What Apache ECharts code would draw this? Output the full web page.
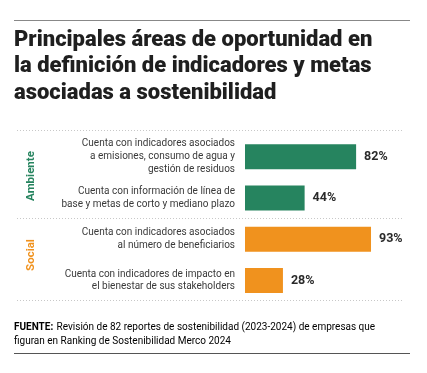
<!DOCTYPE html>
<html><head><meta charset="utf-8">
<script src="https://cdn.jsdelivr.net/npm/echarts@6/dist/echarts.min.js"></script>
<style>html,body{margin:0;padding:0;background:#fff}#c{width:427px;height:373px}</style>
</head><body><div id="c"></div>
<script>
const categories = [
  "Cuenta con indicadores asociados\na emisiones, consumo de agua y\ngestión de residuos",
  "Cuenta con información de línea de\nbase y metas de corto y mediano plazo",
  "Cuenta con indicadores asociados\nal número de beneficiarios",
  "Cuenta con indicadores de impacto en\nel bienestar de sus stakeholders"
];
const values = [82, 44, 93, 28];
const groups = ["Ambiente", "Ambiente", "Social", "Social"];
const groupNames = ["Ambiente", "Social"];
const groupColors = {"Ambiente": "#26845f", "Social": "#f0921e"};
const titleText = "Principales áreas de oportunidad en\nla definición de indicadores y metas\nasociadas a sostenibilidad";
const sourceLabel = "FUENTE:";
const sourceText = "Revisión de 82 reportes de sostenibilidad (2023-2024) de empresas que\nfiguran en Ranking de Sostenibilidad Merco 2024";

const font = "Roboto, 'Noto Sans', sans-serif";
const chart = echarts.init(document.getElementById('c'), null, {renderer: 'canvas'});

function dotted(y) {
  return {type: 'line', shape: {x1: 17, y1: y, x2: 403, y2: y},
    style: {stroke: '#c8c8c8', lineWidth: 1, lineDash: [1, 2]}};
}

chart.setOption({
  animation: false,
  title: {
    text: titleText, left: 14, top: 27, padding: 0,
    textStyle: {fontFamily: font, fontWeight: 900, fontSize: 22, lineHeight: 26.5, color: '#1f1f1f'}
  },
  grid: {left: 245, right: 46.5, top: 136, height: 165, containLabel: false},
  xAxis: {type: 'value', min: 0, max: 100, show: false},
  yAxis: {
    type: 'category', data: categories, inverse: true,
    axisLine: {show: false}, axisTick: {show: false},
    axisLabel: {margin: 10, align: 'right', fontFamily: font, fontSize: 10, lineHeight: 12.7, color: '#3a3a3a'}
  },
  series: [{
    type: 'bar', barWidth: 25,
    data: values.map((v, i) => ({value: v, itemStyle: {color: groupColors[groups[i]]}})),
    label: {show: true, position: 'right', distance: 8, formatter: '{c}%',
      fontFamily: font, fontWeight: 'bold', fontSize: 12.5, color: '#2a2a2a'}
  }],
  graphic: [
    {type: 'line', shape: {x1: 14, y1: 20.5, x2: 410, y2: 20.5}, style: {stroke: '#888', lineWidth: 1}},
    dotted(130.5), dotted(218.5), dotted(300.5),
    {type: 'text', x: 31.5, y: 176, rotation: Math.PI / 2,
      style: {text: groupNames[0], fill: groupColors[groupNames[0]], font: 'bold 11.5px ' + font, align: 'center', verticalAlign: 'middle'}},
    {type: 'text', x: 31.5, y: 255, rotation: Math.PI / 2,
      style: {text: groupNames[1], fill: groupColors[groupNames[1]], font: 'bold 11.5px ' + font, align: 'center', verticalAlign: 'middle'}},
    {type: 'text', left: 14, top: 321,
      style: {text: '{b|' + sourceLabel + '} {r|' + sourceText.split('\n')[0] + '}\n{r|' + sourceText.split('\n')[1] + '}',
        rich: {b: {fontFamily: font, fontWeight: 'bold', fontSize: 10, color: '#2a2a2a', lineHeight: 14},
               r: {fontFamily: font, fontSize: 10, color: '#444', lineHeight: 14}}}},
    {type: 'line', shape: {x1: 14, y1: 353.5, x2: 410, y2: 353.5}, style: {stroke: '#555', lineWidth: 1}}
  ]
});
</script></body></html>
